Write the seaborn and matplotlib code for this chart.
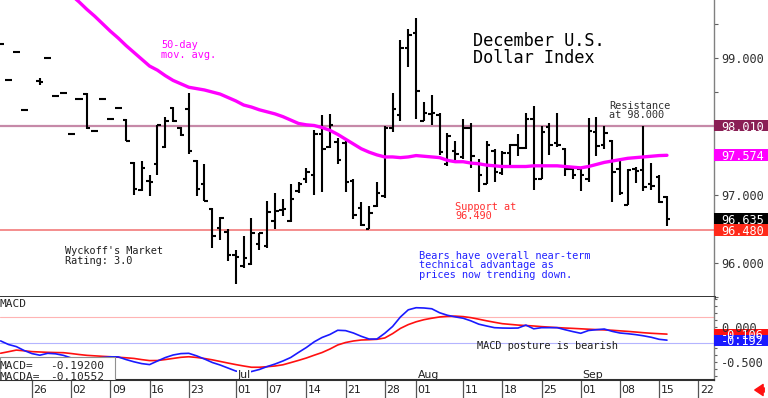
import numpy as np
import pandas as pd
import matplotlib
matplotlib.use('Agg')
import matplotlib.pyplot as plt
import matplotlib.transforms as mtransforms
from matplotlib.patches import Rectangle
import seaborn as sns

# Daily bars, Dec U.S. Dollar Index futures (one entry per weekday, nan = no trade)
days = pd.bdate_range('2019-05-21', '2019-09-17')
nan = np.nan

opens = [99.20, 98.67, 99.08, 98.24, nan, 98.66, 99.00, 98.44, 98.48, 97.89,
         98.40, 98.47, 97.93, 98.40, 98.10, 98.27, 98.09, 97.46, 97.06, 97.20,
         97.45, 97.69, 98.27, 97.97, 98.25, 97.49, 97.15, 96.79, 96.51, 96.45,
         96.11, 95.96, 95.99, 96.28, 96.25, 96.61, 96.77, 96.61, 97.05, 97.22,
         97.29, 97.88, 97.70, 97.77, 97.76, 97.20, 96.80, 96.50, 96.83, 96.98,
         97.98, 98.17, 99.15, 99.37, 98.08, 98.18, 98.17, 97.45, 97.63, 97.55,
         97.98, 97.46, 97.16, 97.63, 97.31, 97.61, 97.73, 97.68, 98.10, 97.23,
         97.99, 97.75, 97.66, 97.37, 97.38, 97.23, 97.92, 97.73, 97.78, 97.37,
         96.85, 97.37, 97.36, 97.15, 97.25, 96.97]
highs = [99.20, 98.67, 99.08, 98.24, nan, 98.70, 99.00, 98.44, 98.48, 97.89,
         98.40, 98.49, 97.93, 98.40, 98.10, 98.27, 98.10, 97.47, 97.49, 97.29,
         98.02, 98.14, 98.28, 97.99, 98.49, 97.50, 97.44, 96.80, 96.67, 96.49,
         96.19, 96.39, 96.66, 96.44, 96.90, 97.02, 96.93, 97.15, 97.18, 97.39,
         97.95, 98.17, 98.18, 97.82, 97.78, 97.23, 96.89, 96.83, 97.18, 98.00,
         98.48, 99.26, 99.42, 99.59, 98.36, 98.46, 98.19, 97.90, 97.78, 98.10,
         98.04, 97.52, 97.78, 97.66, 97.63, 97.74, 97.88, 98.19, 98.30, 98.00,
         98.05, 98.19, 97.68, 97.39, 97.39, 98.12, 98.13, 98.00, 97.80, 97.52,
         97.37, 97.41, 98.00, 97.46, 97.29, 96.98]
lows = [99.20, 98.67, 99.08, 98.24, nan, 98.60, 99.00, 98.44, 98.48, 97.89,
        98.40, 97.96, 97.93, 98.40, 98.10, 98.27, 97.79, 97.00, 97.05, 96.98,
        97.29, 97.68, 98.06, 97.86, 97.59, 96.98, 96.90, 96.22, 96.34, 96.03,
        95.69, 95.93, 95.97, 96.19, 96.22, 96.50, 96.68, 96.60, 97.02, 97.17,
        96.99, 97.03, 97.68, 97.44, 97.03, 96.64, 96.54, 96.49, 96.82, 96.95,
        97.92, 98.07, 98.87, 98.10, 98.07, 98.02, 97.58, 97.42, 97.51, 97.52,
        97.39, 97.03, 97.15, 97.18, 97.29, 97.42, 97.57, 97.66, 97.07, 97.22,
        97.58, 97.70, 97.27, 97.22, 97.05, 97.19, 97.57, 97.66, 96.89, 97.00,
        96.84, 97.17, 97.05, 97.07, 96.88, 96.54]
closes = [99.20, 98.67, 99.08, 98.24, nan, 98.64, 99.00, 98.44, 98.48, 97.89,
          98.40, 97.97, 97.93, 98.40, 98.10, 98.27, 97.79, 97.08, 97.39, 97.18,
          98.02, 98.07, 98.08, 97.87, 97.63, 97.08, 96.91, 96.40, 96.66, 96.12,
          96.08, 96.07, 96.44, 96.43, 96.74, 96.76, 96.79, 96.93, 97.16, 97.33,
          97.88, 97.67, 98.02, 97.51, 97.18, 96.70, 96.56, 96.73, 97.02, 97.98,
          98.25, 99.15, 99.34, 98.52, 98.20, 98.19, 97.62, 97.85, 97.60, 97.98,
          97.57, 97.29, 97.73, 97.33, 97.61, 97.72, 97.68, 98.11, 97.23, 97.92,
          97.73, 97.72, 97.37, 97.28, 97.29, 97.93, 97.71, 97.90, 97.33, 97.02,
          97.36, 97.35, 97.11, 97.13, 96.89, 96.635]

# 50-day moving average (above the chart top before early June)
ma50 = [nan] * 8 + [
    100.01, 99.92, 99.82, 99.71, 99.61, 99.50, 99.39, 99.29, 99.18, 99.08,
    98.98, 98.88, 98.82, 98.74, 98.67, 98.62, 98.57, 98.55, 98.53, 98.50,
    98.47, 98.42, 98.37, 98.31, 98.28, 98.24, 98.21, 98.18, 98.14, 98.09,
    98.04, 98.02, 98.01, 97.98, 97.94, 97.88, 97.81, 97.74, 97.67, 97.62,
    97.58, 97.55, 97.55, 97.54, 97.55, 97.57, 97.56, 97.55, 97.54, 97.50,
    97.48, 97.48, 97.46, 97.45, 97.43, 97.42, 97.41, 97.41, 97.41, 97.41,
    97.42, 97.42, 97.42, 97.42, 97.41, 97.40, 97.39, 97.41, 97.44, 97.47,
    97.49, 97.51, 97.53, 97.54, 97.55, 97.56, 97.57, 97.574]

macd = [-0.203, -0.254, -0.284, -0.340, -0.384, -0.407, -0.380, -0.387, -0.409, -0.446,
        -0.461, -0.469, -0.454, -0.440, -0.430, -0.431, -0.469, -0.501, -0.527, -0.541,
        -0.490, -0.441, -0.404, -0.384, -0.380, -0.416, -0.461, -0.511, -0.547, -0.590,
        -0.633, -0.654, -0.640, -0.611, -0.569, -0.533, -0.490, -0.440, -0.367, -0.297,
        -0.216, -0.154, -0.111, -0.051, -0.056, -0.090, -0.137, -0.176, -0.176, -0.094,
        0.003, 0.139, 0.241, 0.271, 0.267, 0.256, 0.199, 0.163, 0.140, 0.121,
        0.083, 0.036, 0.010, -0.014, -0.019, -0.021, -0.019, 0.023, -0.030, -0.014,
        -0.014, -0.014, -0.043, -0.070, -0.094, -0.054, -0.043, -0.033, -0.066, -0.090,
        -0.100, -0.113, -0.130, -0.151, -0.180, -0.192]
macda = [-0.379, -0.357, -0.334, -0.344, -0.356, -0.361, -0.366, -0.369, -0.371, -0.383,
         -0.397, -0.409, -0.416, -0.423, -0.429, -0.436, -0.444, -0.453, -0.470, -0.484,
         -0.483, -0.469, -0.453, -0.437, -0.429, -0.439, -0.454, -0.473, -0.496, -0.519,
         -0.541, -0.561, -0.579, -0.579, -0.571, -0.561, -0.544, -0.513, -0.481, -0.447,
         -0.407, -0.369, -0.319, -0.261, -0.226, -0.204, -0.190, -0.186, -0.180, -0.161,
         -0.099, -0.024, 0.030, 0.070, 0.100, 0.121, 0.139, 0.149, 0.151, 0.144,
         0.129, 0.107, 0.084, 0.063, 0.043, 0.033, 0.023, 0.017, 0.010, 0.001,
         -0.006, -0.013, -0.019, -0.024, -0.030, -0.036, -0.041, -0.046, -0.051, -0.059,
         -0.067, -0.076, -0.086, -0.094, -0.100, -0.106]

resistance = 98.010
support = 96.480
macd_upper = 0.143
macd_lower = -0.237

tick_dates = ['2019-05-27', '2019-06-03', '2019-06-10', '2019-06-17', '2019-06-24',
              '2019-07-02', '2019-07-08', '2019-07-15', '2019-07-22', '2019-07-29',
              '2019-08-02', '2019-08-12', '2019-08-19', '2019-08-26', '2019-09-02',
              '2019-09-09', '2019-09-16', '2019-09-23']
tick_labels = ['26', '02', '09', '16', '23', '01', '07', '14', '21', '28',
               '01', '11', '18', '25', '01', '08', '15', '22']
month_dates = ['2019-07-02', '2019-08-02', '2019-09-02']
month_labels = ['Jul', 'Aug', 'Sep']

df = pd.DataFrame({'open': opens, 'high': highs, 'low': lows, 'close': closes,
                   'ma50': ma50, 'macd': macd, 'macda': macda}, index=days)
df['pos'] = np.arange(len(df))
start = days[0].strftime('%Y-%m-%d')
tick_pos = np.busday_count(start, tick_dates)
month_pos = np.busday_count(start, month_dates)

sns.set_theme(style='white')
plt.rcParams['font.family'] = ['DejaVu Sans']
mono = 'DejaVu Sans Mono'

W, H = 768, 398
fig = plt.figure(figsize=(W / 100, H / 100), dpi=100)
ax = fig.add_axes([0, 1 - 297 / H, 714 / W, 297 / H])
axm = fig.add_axes([0, 18 / H, 714 / W, 83 / H])


def fp(x, y):
    return x / W, 1 - y / H


# ---- price panel
ax.axhline(resistance, color='#c689a8', lw=1.6, zorder=1)
ax.axhline(support, color='#f27a7a', lw=1.2, zorder=1)
ax.vlines(df['pos'], df['low'], df['high'], color='black', lw=1.5, zorder=3)
ax.hlines(df['open'], df['pos'] - 0.45, df['pos'], color='black', lw=1.5, zorder=3)
ax.hlines(df['close'], df['pos'], df['pos'] + 0.45, color='black', lw=1.5, zorder=3)
sns.lineplot(data=df.dropna(subset=['ma50']), x='pos', y='ma50', color='#ff00ff',
             lw=2.4, ax=ax, zorder=4, legend=False)

ax.set_xlim(-0.08, 91.0)
ax.set_ylim(95.511, 99.847)
ax.set_xlabel('')
ax.set_ylabel('')
ax.set_xticks([])
ax.yaxis.tick_right()
ax.set_yticks(np.arange(95.5, 100.0, 0.5))
ax.set_yticklabels([])
ax.tick_params(axis='y', length=3, width=0.8, color='#606060', right=True, left=False)
for s in ['left', 'top']:
    ax.spines[s].set_visible(False)
ax.spines['right'].set_color('#808080')
ax.spines['right'].set_linewidth(1.0)
ax.spines['bottom'].set_color('#202020')
ax.spines['bottom'].set_linewidth(2.0)


def tag(axis, value, text, face, height, color='white'):
    tr = mtransforms.blended_transform_factory(axis.transAxes, axis.transData)
    if face is not None:
        axis.add_patch(Rectangle((1.0, value - height / 2), 54 / 714, height, transform=tr,
                                 facecolor=face, edgecolor='none', clip_on=False, zorder=6))
    axis.text(1.0 + 7 / 714, value, text, transform=tr, color=color, ha='left',
              va='center_baseline', fontsize=8.6, family=mono, zorder=7, clip_on=False)


for v in [99.0, 97.0, 96.0]:
    tag(ax, v, f'{v:.3f}', None, 0, color='#303030')
tag(ax, resistance, '98.010', '#8a1f55', 0.175)
tag(ax, ma50[-1], '97.574', '#ff00ff', 0.175)
tag(ax, closes[-1], '96.635', '#000000', 0.175)
tag(ax, support, '96.480', '#ff2a1a', 0.175)

fig.text(*fp(473, 32), 'December U.S.\nDollar Index', family=mono, fontsize=12.2,
         va='top', linespacing=0.9, color='black')
fig.text(*fp(161, 40), '50-day\nmov. avg.', family=mono, fontsize=7.4, va='top',
         linespacing=0.95, color='#ff00ff')
fig.text(*fp(65, 246), "Wyckoff's Market\nRating: 3.0", family=mono, fontsize=7.4,
         va='top', linespacing=0.95, color='#202020')
fig.text(*fp(609, 101), 'Resistance\nat 98.000', family=mono, fontsize=7.4, va='top',
         linespacing=0.9, color='#303030')
fig.text(*fp(455, 202), 'Support at\n96.490', family=mono, fontsize=7.4, va='top',
         linespacing=0.9, color='#ff3030')
fig.text(*fp(419, 251), 'Bears have overall near-term\ntechnical advantage as\n'
         'prices now trending down.', family=mono, fontsize=7.4, va='top',
         linespacing=0.92, color='#2222ff')

# ---- MACD panel
axm.axhline(macd_upper, color='#ffb4b4', lw=0.8, zorder=1)
axm.axhline(macd_lower, color='#b4b4ff', lw=0.8, zorder=1)
sns.lineplot(data=df, x='pos', y='macda', color='#ff1010', lw=1.2, ax=axm, zorder=2,
             legend=False)
sns.lineplot(data=df, x='pos', y='macd', color='#1a1aff', lw=1.2, ax=axm, zorder=2,
             legend=False)
axm.set_xlim(-0.08, 91.0)
axm.set_ylim(-0.761, 0.424)
axm.set_xlabel('')
axm.set_ylabel('')
axm.yaxis.tick_right()
axm.set_yticks(np.arange(-0.7, 0.45, 0.1))
axm.set_yticklabels([])
axm.tick_params(axis='y', length=2.5, width=0.8, color='#606060', right=True, left=False)
axm.set_xticks(tick_pos)
axm.set_xticklabels([])
axm.tick_params(axis='x', length=13, width=0.9, color='#555555', direction='out',
                bottom=True)
for s in ['left', 'top']:
    axm.spines[s].set_visible(False)
axm.spines['right'].set_color('#808080')
axm.spines['right'].set_linewidth(1.0)
axm.spines['bottom'].set_color('#303030')
axm.spines['bottom'].set_linewidth(1.5)

xt = mtransforms.blended_transform_factory(axm.transData, axm.transAxes)
for p, lab in zip(tick_pos, tick_labels):
    axm.text(p + 0.2, -0.12, lab, transform=xt, ha='left', va='center', fontsize=7.8,
             color='#202020', clip_on=False)
for p, lab in zip(month_pos, month_labels):
    axm.text(p + 0.2, 0.005, lab, transform=xt, ha='left', va='bottom', fontsize=7.8,
             color='#202020', zorder=2.2,
             bbox=dict(boxstyle='square,pad=0.05', fc='white', ec='none'))

axm.add_patch(Rectangle((-0.08, -0.761), 14.67, 0.324, facecolor='white',
                        edgecolor='#909090', lw=0.8, zorder=5))
fig.text(*fp(0, 366), 'MACD=', family=mono, fontsize=8.0, va='center', zorder=6)
fig.text(*fp(50, 366), f'{macd[-1]:.5f}', family=mono, fontsize=8.0, va='center', zorder=6)
fig.text(*fp(0, 377), 'MACDA=', family=mono, fontsize=8.0, va='center', zorder=6)
fig.text(*fp(50, 377), '-0.10552', family=mono, fontsize=8.0, va='center', zorder=6)
fig.text(*fp(0, 304), 'MACD', family=mono, fontsize=8.0, va='center')
fig.text(*fp(477, 346), 'MACD posture is bearish', family=mono, fontsize=7.4,
         va='center', color='#202020')

tag(axm, 0.0, '0.000', None, 0, color='#303030')
tag(axm, -0.5, '-0.500', None, 0, color='#303030')
tag(axm, macda[-1], '-0.106', '#ff1010', 0.157)
tag(axm, macd[-1], '-0.192', '#1a1aff', 0.157)

fig.patches.append(matplotlib.patches.FancyArrowPatch(
    (767, 8), (752, 8), transform=None, arrowstyle='simple,head_length=0.6,head_width=0.8,tail_width=0.3',
    mutation_scale=10, color='#ff1010'))

fig.savefig('out.png', dpi=100)
